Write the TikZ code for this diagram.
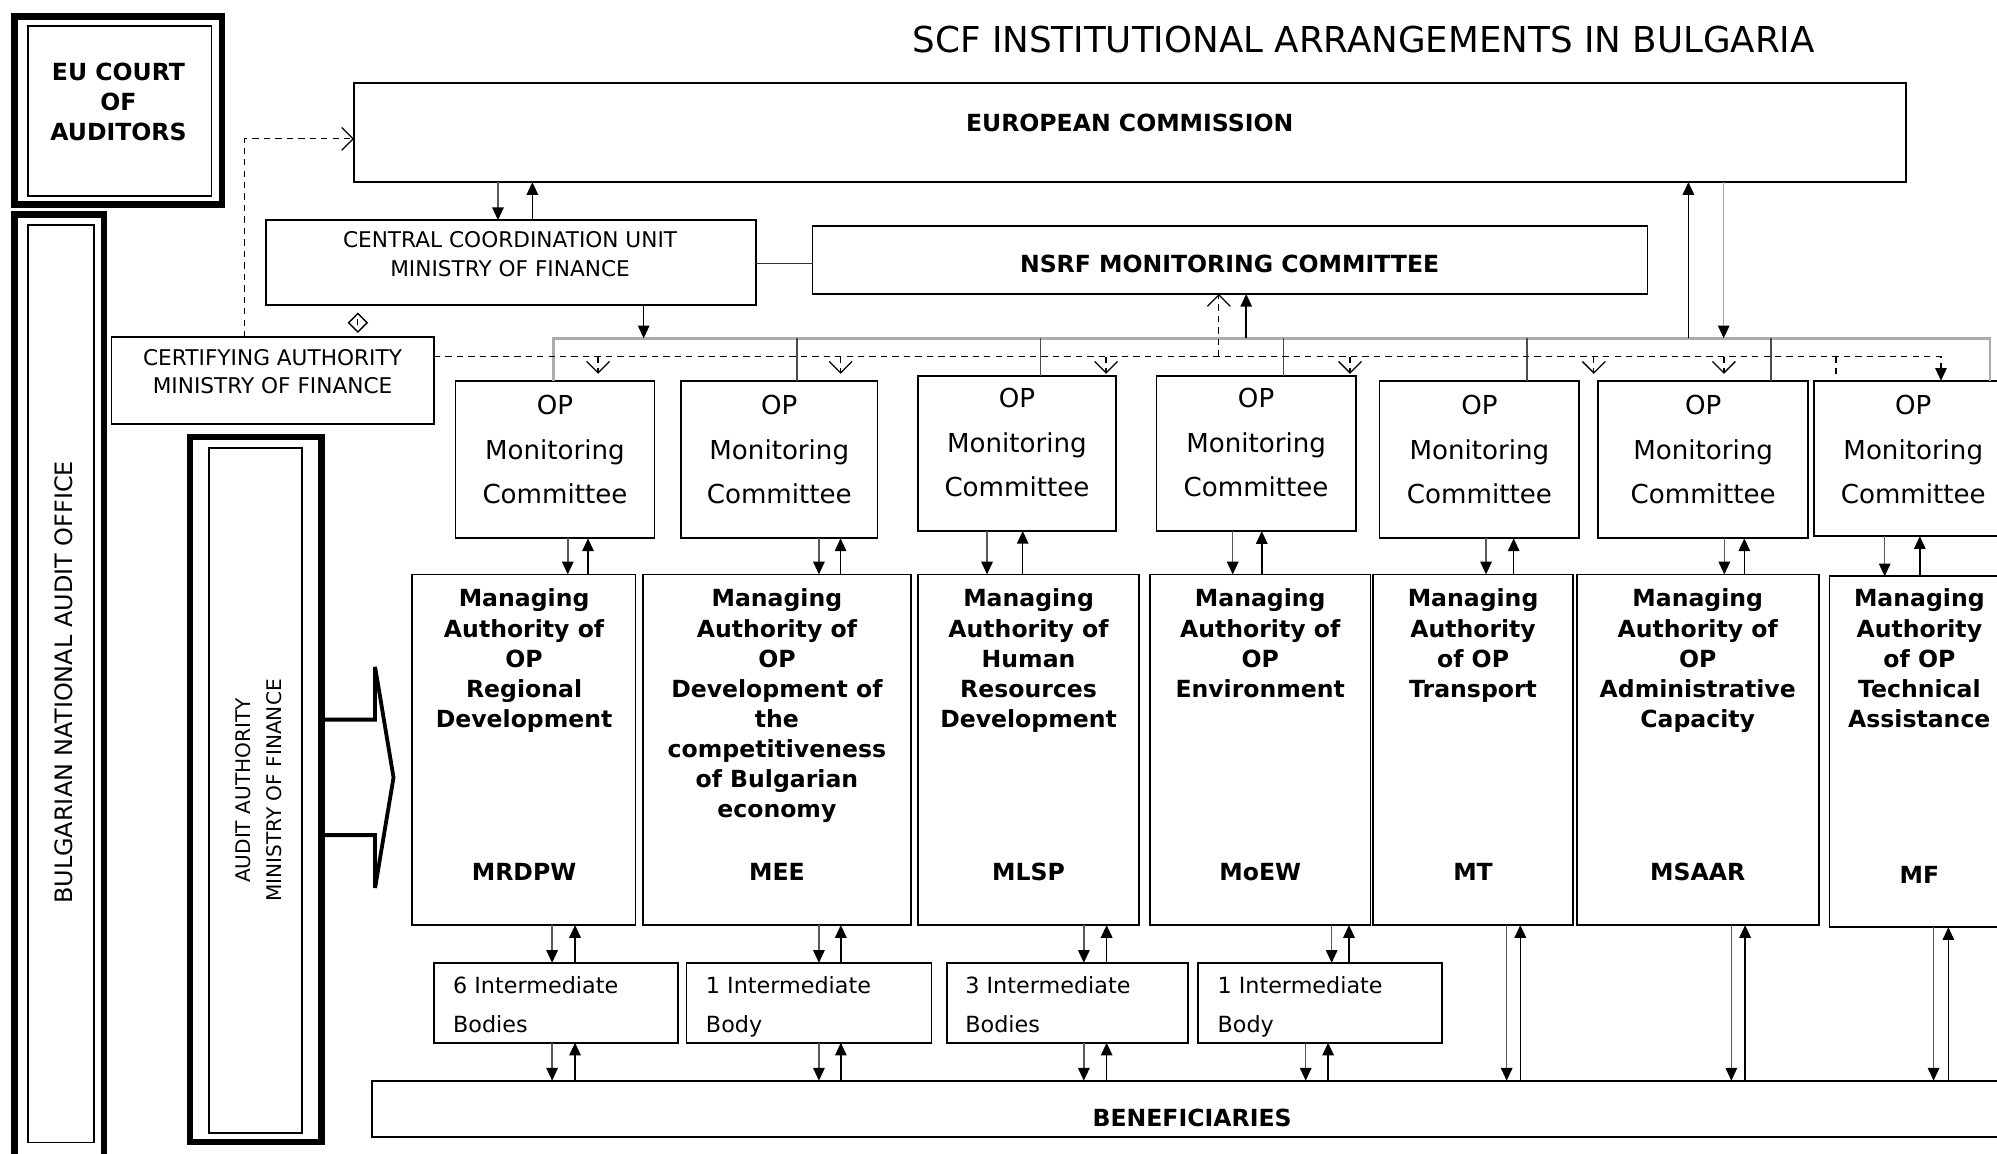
\documentclass[tikz,border=0pt]{standalone}
\usepackage{fontspec}
\setmainfont{DejaVu Sans}
\usetikzlibrary{arrows.meta,shapes.geometric,fit}
\begin{document}
\begin{tikzpicture}[x=1pt,y=-1pt,
  box/.style={draw=black,line width=1.4pt,inner sep=0pt,outer sep=0pt},
  thickbox/.style={draw=black,line width=5pt,inner sep=0pt,outer sep=0pt},
  lbl/.style={inner sep=0pt,outer sep=0pt,align=center},
  boldlbl/.style={lbl,font=\fontsize{18.5}{23.3}\selectfont\bfseries},
  malbl/.style={lbl,anchor=north,font=\fontsize{18.5}{23.6}\selectfont\bfseries},
  codelbl/.style={lbl,anchor=base,font=\fontsize{18.5}{23.6}\selectfont\bfseries},
  mclbl/.style={lbl,font=\fontsize{20.5}{35}\selectfont},
  iblbl/.style={inner sep=0pt,outer sep=0pt,align=left,anchor=north west,font=\fontsize{17.5}{30}\selectfont},
  arr/.style={draw=black,line width=1.2pt,-{Triangle[length=10pt,width=9pt,color=black]}},
  garr/.style={arr,draw=gray!70!black},
  dsh/.style={draw=black,line width=1pt,dash pattern=on 5pt off 4pt},
  barb/.style={-{Straight Barb[length=9pt,width=18pt]}},
  busline/.style={draw=gray!65,line width=2pt},
  drop/.style={draw=gray!60!black,line width=1.2pt}
]
\useasboundingbox (0,0) rectangle (1568,906);
\clip (0,0) rectangle (1568,906);

% title
\node[lbl,font=\fontsize{28}{32}\selectfont] (title) at (1070.8,31) {SCF INSTITUTIONAL ARRANGEMENTS IN BULGARIA};

% EU court of auditors
\node[thickbox,fit={(11.3,13) (174.5,160.5)}] (euo) {};
\node[box,fit={(21.7,20.4) (166,153.6)}] (eui) {};
\node[boldlbl] (eut) at (93,80) {EU COURT\\OF\\AUDITORS};

% Bulgarian national audit office
\node[thickbox,fit={(11.3,168.5) (81.5,940)}] (bnaoo) {};
\node[box,fit={(22,176.7) (73.5,897)}] (bnaoi) {};
\node[lbl,rotate=90,font=\fontsize{18.8}{22}\selectfont] (bnaot) at (50.3,535.8) {BULGARIAN NATIONAL AUDIT OFFICE};

% Audit authority
\node[thickbox,fit={(149,343) (252.5,896.5)}] (aao) {};
\node[box,fit={(164.4,351.8) (237,889.7)}] (aai) {};
\node[lbl,rotate=90,font=\fontsize{15.8}{24}\selectfont] (aat) at (203,620.7) {AUDIT AUTHORITY\\MINISTRY OF FINANCE};
\draw[line width=3pt,line join=miter] (aao.east |- 0,565) -- (294.5,565) -- (294.5,523.6) -- (309,610.4) -- (294.5,697.2) -- (294.5,655.7) -- (aao.east |- 0,655.7);

% European Commission
\node[box,fit={(278,65.4) (1496.3,143)}] (ec) {};
\node[boldlbl] (ect) at (887,96.3) {EUROPEAN COMMISSION};

% Central coordination unit
\node[box,fit={(209,172.8) (593.4,239.5)}] (ccu) {};
\node[lbl,font=\fontsize{17}{22.2}\selectfont] (ccut) at (400.5,199.6) {CENTRAL COORDINATION UNIT\\MINISTRY OF FINANCE};

% NSRF monitoring committee
\node[box,fit={(638,177.2) (1293.6,230.8)}] (nsrf) {};
\node[boldlbl] (nsrft) at (965.5,207.5) {NSRF MONITORING COMMITTEE};
\draw[line width=1.2pt,draw=gray!40!black] (ccu.east |- 0,206.8) -- (nsrf.west |- 0,206.8);

% Certifying authority
\node[box,fit={(87.6,264.9) (340.7,332.8)}] (ca) {};
\node[lbl,font=\fontsize{17}{21.5}\selectfont] (cat) at (214,291.8) {CERTIFYING AUTHORITY\\MINISTRY OF FINANCE};

% diamond
\node[diamond,draw,line width=1.2pt,minimum width=15pt,minimum height=15pt,inner sep=0pt] (dia) at (281,253.4) {};
\draw[line width=0.8pt] ([yshift=3pt]dia.center) -- ([yshift=-2pt]dia.center);

% OP monitoring committees
\foreach \i/\xa/\ya/\xb/\yb/\ty in {1/357.6/299.2/513.9/422.7/353, 2/534.7/299.2/689/422.7/353, 3/721/295/876/416.9/347.7, 4/908/295/1064.5/417/347.7, 5/1083.2/299/1240/422.7/353, 6/1255/299/1419.6/422.7/353, 7/1424.5/299/1580/421/353}{
  \node[box,fit={(\xa,\ya) (\xb,\yb)}] (mc\i) {};
  \node[mclbl] (mct\i) at (mc\i.center |- 0,\ty) {OP\\Monitoring\\Committee};
}

% Managing authorities
\foreach \i/\xa/\ya/\xb/\yb in {1/323.5/451/499/726.3, 2/505/451/715/726.3, 3/721/451/894.3/726.3, 4/903/451/1076/726.3, 5/1078.3/451/1234.8/726.3, 6/1238.2/451/1428.1/726.3, 7/1436.4/452.5/1578/728}{
  \node[box,fit={(\xa,\ya) (\xb,\yb)}] (ma\i) {};
}
\node[malbl] (mat1) at (411.5,462.5) {Managing\\Authority of\\OP\\Regional\\Development};
\node[malbl] (mat2) at (610,462.5) {Managing\\Authority of\\OP\\Development of\\the\\competitiveness\\of Bulgarian\\economy};
\node[malbl] (mat3) at (807.6,462.5) {Managing\\Authority of\\Human\\Resources\\Development};
\node[malbl] (mat4) at (989.5,462.5) {Managing\\Authority of\\OP\\Environment};
\node[malbl] (mat5) at (1156.6,462.5) {Managing\\Authority\\of OP\\Transport};
\node[malbl] (mat6) at (1333,462.5) {Managing\\Authority of\\OP\\Administrative\\Capacity};
\node[malbl] (mat7) at (1507,462.5) {Managing\\Authority\\of OP\\Technical\\Assistance};
\node[codelbl] (mac1) at (411.5,691.1) {MRDPW};
\node[codelbl] (mac2) at (610,691.1) {MEE};
\node[codelbl] (mac3) at (807.6,691.1) {MLSP};
\node[codelbl] (mac4) at (989.5,691.1) {MoEW};
\node[codelbl] (mac5) at (1156.6,691.1) {MT};
\node[codelbl] (mac6) at (1333,691.1) {MSAAR};
\node[codelbl] (mac7) at (1507,693.5) {MF};

% Intermediate bodies
\node[box,fit={(341,756) (532.2,818.7)}] (ib1) {};
\node[box,fit={(539,756) (731.4,818.7)}] (ib2) {};
\node[box,fit={(743.6,756) (932.8,818.7)}] (ib3) {};
\node[box,fit={(940.6,756) (1132,818.7)}] (ib4) {};
\node[iblbl] (ibt1) at (355.8,767.1) {6 Intermediate\\Bodies};
\node[iblbl] (ibt2) at (554.3,767.1) {1 Intermediate\\Body};
\node[iblbl] (ibt3) at (758,767.1) {3 Intermediate\\Bodies};
\node[iblbl] (ibt4) at (956,767.1) {1 Intermediate\\Body};

% Beneficiaries
\node[box,fit={(292,848.5) (1600,893)}] (ben) {};
\node[boldlbl] (bent) at (936,878) {BENEFICIARIES};

% bus and connectors
\coordinate (busL) at (434.7,265.6);
\coordinate (busR) at (1562.5,265.6);
\coordinate (dL) at (340.7,280);
\draw[busline] (mc1.north -| busL) |- (busR) -- (busR |- mc7.north);
\foreach \x/\n in {625.7/2, 817/3, 1007.8/4, 1199/5, 1390.6/6}
  \draw[drop] (\x,0 |- busL) -- (\x,0 |- mc\n.north);

\draw[garr] (391,0 |- ec.south) -- (391,0 |- ccu.north);
\draw[arr] (418,0 |- ccu.north) -- (418,0 |- ec.south);
\draw[arr] (505.4,0 |- ccu.south) -- (505.4,0 |- busL);
\draw[arr] (1325.7,0 |- busL) -- (1325.7,0 |- ec.south);
\draw[garr,draw=gray!70] (1353.4,0 |- ec.south) -- (1353.4,0 |- busL);
\draw[arr] (978.5,0 |- busL) -- (978.5,0 |- nsrf.south);

% dashed lines
\draw[dsh,-{Triangle[length=10pt,width=9pt]}] (ca.east |- dL) -| (1524,0 |- mc7.north);
\foreach \x in {469.6, 660, 868.5, 1060, 1251.4, 1353.6}
  \draw[dsh,barb] (\x,0 |- dL) -- ++(0,13.5);
\draw[dsh] (1441.6,0 |- dL) -- (1441.6,0 |- mc7.north);
\draw[dsh,barb] (957,0 |- dL) -- (957,0 |- nsrf.south);
\draw[dsh,barb] (192,0 |- ca.north) |- (ec.west |- 0,109);

% OP MC <-> MA
\foreach \i/\d/\u in {1/445.8/461.7, 2/643/660, 3/775/803, 4/967.9/990.7, 5/1166.8/1188.5, 6/1353.9/1369.6, 7/1479.8/1507.4}{
  \draw[garr] (\d,0 |- mc\i.south) -- (\d,0 |- ma\i.north);
  \draw[arr] (\u,0 |- ma\i.north) -- (\u,0 |- mc\i.south);
}
% MA <-> IB
\foreach \i/\d/\u in {1/433.5/451.5, 2/643/660.2, 3/851/868.9, 4/1045.6/1059.2}{
  \draw[garr] (\d,0 |- ma\i.south) -- (\d,0 |- ib\i.north);
  \draw[arr] (\u,0 |- ib\i.north) -- (\u,0 |- ma\i.south);
}
% IB <-> beneficiaries
\foreach \i/\d/\u in {1/433.5/451.5, 2/643/660.2, 3/851/868.9, 4/1025.2/1042.8}{
  \draw[garr] (\d,0 |- ib\i.south) -- (\d,0 |- ben.north);
  \draw[arr] (\u,0 |- ben.north) -- (\u,0 |- ib\i.south);
}
% MA <-> beneficiaries
\foreach \i/\d/\u in {5/1183/1193.7, 6/1359.4/1370.2, 7/1518.2/1529.8}{
  \draw[garr] (\d,0 |- ma\i.south) -- (\d,0 |- ben.north);
  \draw[arr] (\u,0 |- ben.north) -- (\u,0 |- ma\i.south);
}
\end{tikzpicture}
\end{document}
